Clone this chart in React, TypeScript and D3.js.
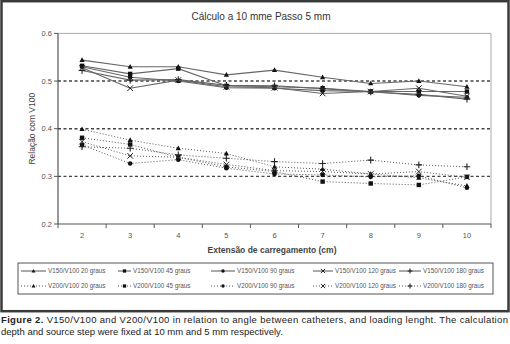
import React from "react";
import * as d3 from "d3";

const categories = ["2", "3", "4", "5", "6", "7", "8", "9", "10"];
const yTicks = [0.2, 0.3, 0.4, 0.5, 0.6];
const gridValues = [0.3, 0.4, 0.5];

const v150_20 = [0.544, 0.530, 0.530, 0.513, 0.523, 0.508, 0.495, 0.500, 0.488];
const v150_45 = [0.532, 0.515, 0.526, 0.490, 0.488, 0.485, 0.478, 0.478, 0.478];
const v150_90 = [0.530, 0.508, 0.500, 0.486, 0.485, 0.480, 0.478, 0.470, 0.466];
const v150_120 = [0.528, 0.485, 0.502, 0.488, 0.486, 0.474, 0.478, 0.485, 0.468];
const v150_180 = [0.522, 0.502, 0.503, 0.491, 0.490, 0.484, 0.477, 0.472, 0.462];

const v200_20 = [0.399, 0.376, 0.359, 0.348, 0.320, 0.315, 0.305, 0.297, 0.280];
const v200_45 = [0.381, 0.367, 0.340, 0.320, 0.310, 0.289, 0.285, 0.282, 0.299];
const v200_90 = [0.366, 0.327, 0.335, 0.317, 0.305, 0.303, 0.299, 0.301, 0.276];
const v200_120 = [0.373, 0.343, 0.340, 0.325, 0.312, 0.310, 0.305, 0.310, 0.298];
const v200_180 = [0.362, 0.359, 0.345, 0.338, 0.331, 0.327, 0.334, 0.324, 0.320];

const seriesNames = [
  "V150/V100 20 graus", "V150/V100 45 graus", "V150/V100 90 graus", "V150/V100 120 graus", "V150/V100 180 graus",
  "V200/V100 20 graus", "V200/V100 45 graus", "V200/V100 90 graus", "V200/V100 120 graus", "V200/V100 180 graus",
];
const seriesValues = [v150_20, v150_45, v150_90, v150_120, v150_180, v200_20, v200_45, v200_90, v200_120, v200_180];
const markerKinds = ["tri", "sq", "circ", "x", "plus", "tri", "sq", "circ", "x", "plus"];

const FONT = "'Liberation Sans', Arial, sans-serif";

function Marker({ kind, x, y, s = 1 }: { kind: string; x: number; y: number; s?: number }) {
  if (kind === "tri") return <path d={`M${x},${y - 2.8 * s}L${x + 2.6 * s},${y + 1.9 * s}L${x - 2.6 * s},${y + 1.9 * s}Z`} fill="#111" />;
  if (kind === "sq") return <rect x={x - 2.2 * s} y={y - 2.2 * s} width={4.4 * s} height={4.4 * s} fill="#111" />;
  if (kind === "circ") return <circle cx={x} cy={y} r={2.3 * s} fill="#111" />;
  if (kind === "x")
    return (
      <path
        d={`M${x - 2.8 * s},${y - 2.8 * s}L${x + 2.8 * s},${y + 2.8 * s}M${x - 2.8 * s},${y + 2.8 * s}L${x + 2.8 * s},${y - 2.8 * s}`}
        stroke="#222"
        strokeWidth={1}
      />
    );
  return (
    <path d={`M${x - 3.3 * s},${y}L${x + 3.3 * s},${y}M${x},${y - 3.3 * s}L${x},${y + 3.3 * s}`} stroke="#222" strokeWidth={1.1} />
  );
}

export default function App() {
  const W = 510, H = 344;
  const left = 58, right = 491, top = 33.4, bottom = 224;
  const x = d3.scaleBand<string>().domain(categories).range([left, right]);
  const y = d3.scaleLinear().domain([0.2, 0.6]).range([bottom, top]);
  const cx = (c: string) => (x(c) as number) + x.bandwidth() / 2;
  const line = d3.line<number>().x((_, i) => cx(categories[i])).y((v) => y(v));

  const legendCols = [
    { ls: 21, tx: 48 },
    { ls: 118, tx: 133 },
    { ls: 211, tx: 237 },
    { ls: 313, tx: 335 },
    { ls: 399, tx: 423 },
  ];
  const legendRows = [271, 286];

  return (
    <svg width={W} height={H} style={{ position: "absolute", left: 0, top: 0, display: "block" }}>
      <defs>
        <clipPath id="legclip">
          <rect x={18} y={263} width={474} height={31} />
        </clipPath>
      </defs>
      <rect x={0} y={0} width={W} height={H} fill="#fff" />
      <rect x={1.5} y={1.2} width={507} height={310} fill="#fff" stroke="#3a3a3a" strokeWidth={2.5} />
      <text x={261} y={20} textAnchor="middle" fontFamily={FONT} fontSize={10} fill="#333">
        Cálculo a 10 mme Passo 5 mm
      </text>
      <path d={`M${left},${top}H${right}V${bottom}`} fill="none" stroke="#aaa" strokeWidth={1} />
      {gridValues.map((g) => (
        <line key={g} x1={left} x2={right} y1={y(g)} y2={y(g)} stroke="#444" strokeWidth={1.4} strokeDasharray="3,2.5" />
      ))}
      <line x1={left} x2={left} y1={top} y2={bottom} stroke="#555" strokeWidth={1.2} />
      <line x1={left} x2={right} y1={bottom} y2={bottom} stroke="#555" strokeWidth={1.2} />
      {yTicks.map((t) => (
        <g key={t}>
          <line x1={left - 4} x2={left} y1={y(t)} y2={y(t)} stroke="#555" />
          <text x={left - 6} y={y(t) + 2.5} textAnchor="end" fontFamily={FONT} fontSize={7.5} fill="#555">
            {t.toFixed(1)}
          </text>
        </g>
      ))}
      {categories.map((c, i) => (
        <g key={c}>
          <line x1={(x(c) as number) + x.bandwidth()} x2={(x(c) as number) + x.bandwidth()} y1={bottom} y2={bottom + 4} stroke="#555" />
          {i === 0 && <line x1={left} x2={left} y1={bottom} y2={bottom + 4} stroke="#555" />}
          <text x={cx(c)} y={bottom + 14} textAnchor="middle" fontFamily={FONT} fontSize={7.5} fill="#555">
            {c}
          </text>
        </g>
      ))}
      <text x={272} y={253} textAnchor="middle" fontFamily={FONT} fontSize={8.5} fontWeight={700} fill="#444">
        Extensão de carregamento (cm)
      </text>
      <text transform={`translate(35,${(top + bottom) / 2}) rotate(-90)`} textAnchor="middle" fontFamily={FONT} fontSize={8.5} fill="#444">
        Relação com V100
      </text>
      {seriesValues.map((vals, si) => (
        <g key={si}>
          <path
            d={line(vals) as string}
            fill="none"
            stroke={si < 5 ? "#666" : "#555"}
            strokeWidth={si < 5 ? 1.1 : 1}
            strokeDasharray={si < 5 ? undefined : "1,2"}
          />
          {vals.map((v, i) => (
            <Marker key={i} kind={markerKinds[si]} x={cx(categories[i])} y={y(v)} />
          ))}
        </g>
      ))}
      <rect x={18} y={263} width={475} height={31} fill="#fff" stroke="#555" strokeWidth={1} />
      <g clipPath="url(#legclip)">
        {seriesNames.map((name, si) => {
          const col = legendCols[si % 5];
          const ry = legendRows[Math.floor(si / 5)];
          const x1 = col.ls, x2 = col.tx - 2;
          return (
            <g key={name}>
              <line x1={x1} x2={x2} y1={ry} y2={ry} stroke="#555" strokeWidth={1} strokeDasharray={si < 5 ? undefined : "1,2"} />
              <Marker kind={markerKinds[si]} x={(x1 + x2) / 2} y={ry} s={0.75} />
              <text x={col.tx} y={ry + 2.3} fontFamily={FONT} fontSize={6.3} fill="#555">
                {name}
              </text>
            </g>
          );
        })}
      </g>
      <text x={1} y={323} fontFamily={FONT} fontSize={9.5} fill="#222" textLength={507} lengthAdjust="spacing">
        <tspan fontWeight={700}>Figure 2.</tspan> V150/V100 and V200/V100 in relation to angle between catheters, and loading lenght. The calculation
      </text>
      <text x={1} y={335} fontFamily={FONT} fontSize={9.5} fill="#222">
        depth and source step were fixed at 10 mm and 5 mm respectively.
      </text>
    </svg>
  );
}
